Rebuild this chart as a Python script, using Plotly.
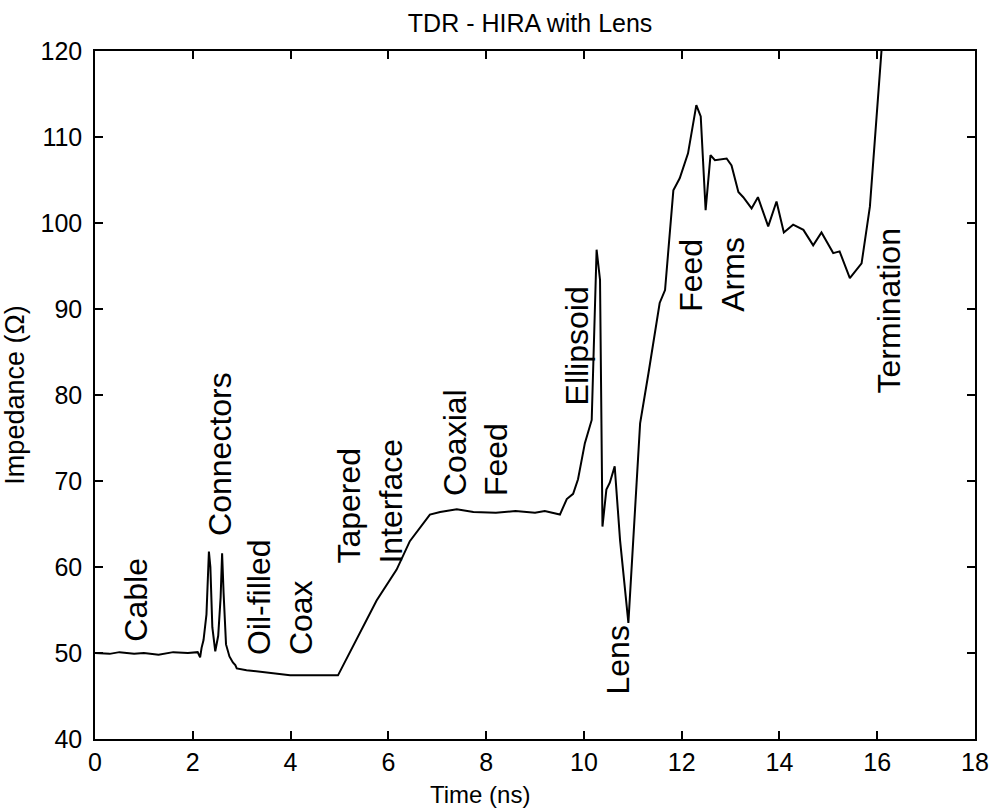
import plotly.graph_objects as go

# Time (ns) and impedance (Ohm)
time_ns = [0.00, 0.30, 0.50, 0.80, 1.00, 1.30, 1.60, 1.90, 2.10, 2.15, 2.18, 2.22, 2.28, 2.33, 2.36,
           2.40, 2.46, 2.52, 2.57, 2.60, 2.63, 2.68, 2.75, 2.82, 2.87, 2.90, 3.10, 3.44, 3.70, 3.99,
           4.50, 4.97, 5.76, 6.17, 6.44, 6.85, 7.06, 7.40, 7.74, 8.20, 8.60, 9.00, 9.20, 9.51, 9.65,
           9.78, 9.88, 10.02, 10.16, 10.19, 10.26, 10.33, 10.38, 10.46, 10.53, 10.63, 10.74, 10.91,
           11.02, 11.15, 11.32, 11.55, 11.66, 11.76, 11.83, 11.96, 12.13, 12.30, 12.39, 12.49, 12.59,
           12.68, 12.92, 13.02, 13.16, 13.26, 13.43, 13.56, 13.77, 13.94, 14.09, 14.28, 14.49, 14.69,
           14.86, 15.10, 15.23, 15.44, 15.68, 15.85, 16.02, 16.10]
impedance = [50.0, 49.9, 50.1, 49.9, 50.0, 49.8, 50.1, 50.0, 50.1, 49.5, 50.6, 51.5, 54.5, 61.8, 60.0,
             53.0, 50.2, 52.0, 56.5, 61.6, 57.0, 51.0, 49.6, 48.9, 48.6, 48.2, 48.0, 47.8, 47.6, 47.4,
             47.4, 47.4, 56.1, 59.7, 63.0, 66.1, 66.4, 66.7, 66.4, 66.3, 66.5, 66.3, 66.5, 66.1, 67.9,
             68.5, 70.2, 74.4, 77.1, 84.1, 96.9, 93.4, 64.7, 69.0, 69.8, 71.7, 63.1, 53.5,
             64.3, 76.7, 82.5, 90.7, 92.2, 99.2, 103.8, 105.2, 108.1, 113.7, 112.4, 101.5, 107.9,
             107.3, 107.5, 106.7, 103.6, 103.0, 101.7, 103.0, 99.6, 102.5, 98.9, 99.8, 99.2, 97.4,
             98.9, 96.5, 96.7, 93.6, 95.3, 101.9, 115.5, 121.0]

# Region labels (text, x, y of the bottom of the rotated label)
label_text = ["Cable", "Connectors", "Oil-filled<br>Coax", "Tapered<br>Interface",
              "Coaxial<br>Feed", "Ellipsoid", "Lens", "Feed<br>Arms", "Termination"]
label_x = [0.82, 2.56, 3.80, 5.62, 7.78, 9.86, 10.70, 12.62, 16.24]
label_y = [51.1, 63.4, 49.5, 60.2, 68.0, 78.5, 44.9, 89.5, 80.0]

x_ticks = [0, 2, 4, 6, 8, 10, 12, 14, 16, 18]
y_ticks = [40, 50, 60, 70, 80, 90, 100, 110, 120]

FONT = "Arial, Liberation Sans, Helvetica, sans-serif"

fig = go.Figure()
fig.add_trace(go.Scatter(x=time_ns, y=impedance, mode="lines",
                         line=dict(color="black", width=2), showlegend=False))

for t, x, y in zip(label_text, label_x, label_y):
    fig.add_annotation(x=x, y=y, text=t, textangle=-90, showarrow=False,
                       xanchor="center", yanchor="bottom", align="left",
                       font=dict(family=FONT, size=32, color="black"))

# x-axis title (placed left of centre, as in the reference)
fig.add_annotation(x=0.4375, y=-0.08, xref="paper", yref="paper", text="Time (ns)",
                   showarrow=False, xanchor="center", yanchor="middle",
                   font=dict(family=FONT, size=24, color="black"))

axis_common = dict(showline=True, linecolor="black", linewidth=1.5, mirror="ticks",
                   ticks="inside", ticklen=8, tickwidth=1.5, tickcolor="black",
                   showgrid=False, zeroline=False, automargin=False,
                   tickfont=dict(family=FONT, size=25, color="black"))

fig.update_layout(
    width=989, height=809,
    margin=dict(l=95, r=14, t=51, b=70),
    paper_bgcolor="white", plot_bgcolor="white",
    title=dict(text="TDR - HIRA with Lens", x=0.536, xanchor="center", y=0.982, yanchor="top",
               font=dict(family=FONT, size=25, color="black")),
    xaxis=dict(range=[0, 18], tickvals=x_ticks, ticklabelstandoff=0, **axis_common),
    yaxis=dict(range=[40, 120], tickvals=y_ticks, ticklabelstandoff=6,
               title=dict(text="Impedance (Ω)", font=dict(family=FONT, size=27, color="black"), standoff=10),
               **axis_common),
)

fig.write_html("out.html")
